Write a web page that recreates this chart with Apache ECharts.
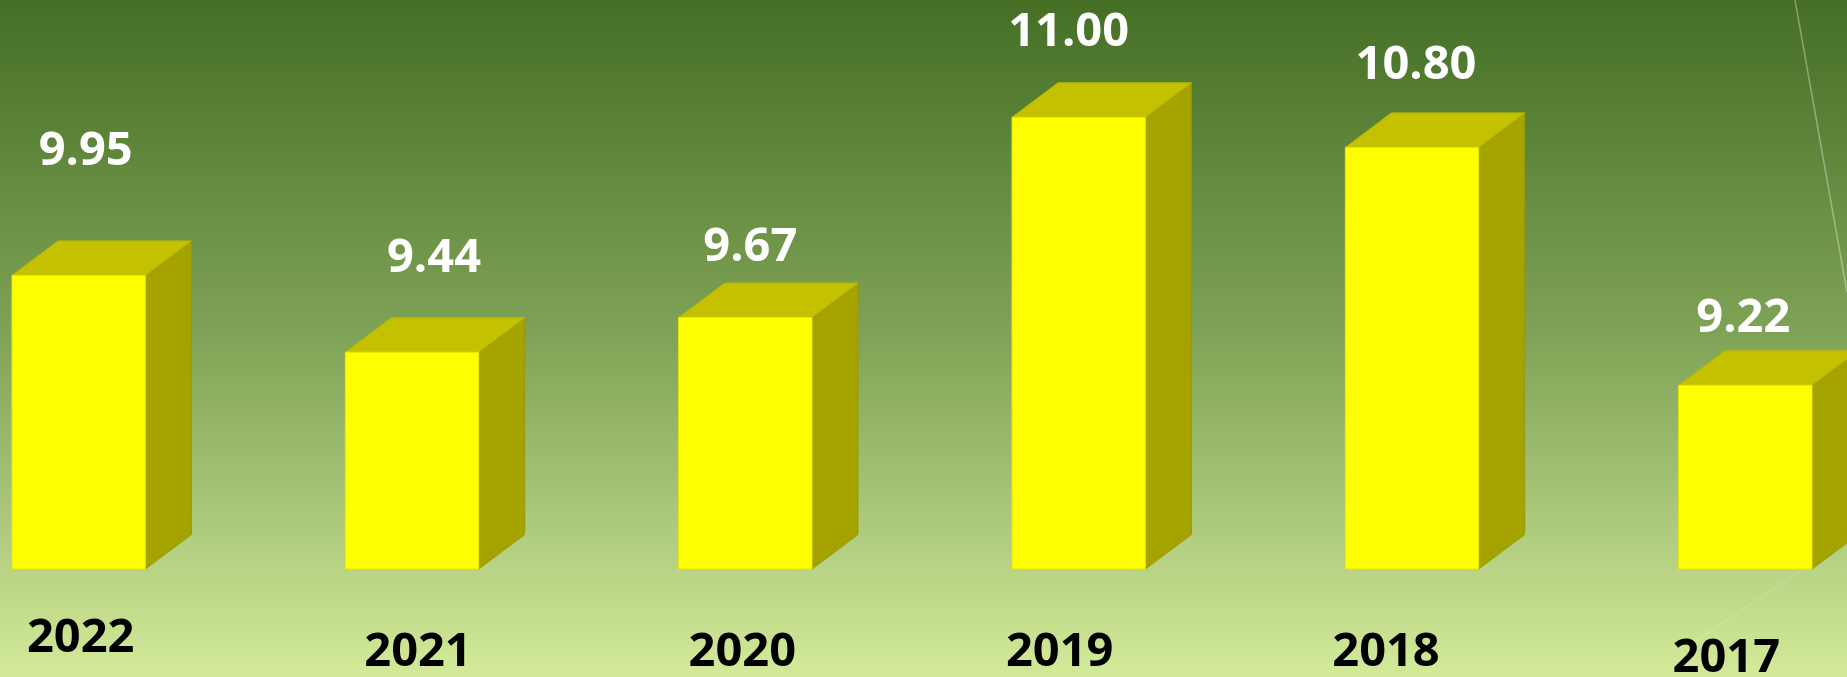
<!DOCTYPE html>
<html><head><meta charset="utf-8">
<script src="https://cdn.jsdelivr.net/npm/echarts@6/dist/echarts.min.js"></script>
<style>html,body{margin:0;padding:0;overflow:hidden;background:#6b9145;width:1847px;height:677px}
#c{position:absolute;left:-88px;top:0;width:2000px;height:677px}</style>
</head><body><div id="c"></div><script>
// ---- data ----
const years = ['2022', '2021', '2020', '2019', '2018', '2017'];
const values = [9.95, 9.44, 9.67, 11.00, 10.80, 9.22];
const valueLabels = ['9.95', '9.44', '9.67', '11.00', '10.80', '9.22'];
const axisMin = 8;
const axisMax = 11.5;

// ---- layout / style (not data) ----
const OFFSET_X = 88; // container is shifted left so the plot runs past both edges
const valueLabelNudge = [[7, -128], [22, -98], [5, -74], [-10, -89], [4, -86], [-2, -71]];
const yearLabelNudge = [[2, 66], [6, 80], [-3, 80], [-19, 80], [-26, 80], [-19, 86]];
const DX = 46, DY = 34.5;
const FONT = '"Open Sans", "DejaVu Sans", sans-serif';

function renderItem(params, api) {
  const i = api.value(0);
  const v = api.value(1);
  const top = api.coord([i, v]);
  const base = api.coord([i, axisMin]);
  const band = api.size([1, 0])[0];
  const w = band * 0.4;
  const xl = top[0] - w / 2, xr = top[0] + w / 2, yt = top[1], yb = base[1];
  const ln = valueLabelNudge[i], yn = yearLabelNudge[i];
  return {
    type: 'group',
    children: [
      { type: 'polygon', shape: { points: [[xr, yt], [xr + DX, yt - DY], [xr + DX, yb - DY], [xr, yb]] },
        style: { fill: '#A4A300', stroke: '#9A9900', lineWidth: 1 } },
      { type: 'polygon', shape: { points: [[xl, yt], [xl + DX, yt - DY], [xr + DX, yt - DY], [xr, yt]] },
        style: { fill: '#C3C100', stroke: '#B8B600', lineWidth: 1 } },
      { type: 'rect', shape: { x: xl, y: yt, width: w, height: yb - yt },
        style: { fill: '#FFFF00', stroke: '#E8E800', lineWidth: 1 } },
      { type: 'text', x: top[0] + ln[0], y: yt + ln[1] + 4,
        style: { text: valueLabels[i], fill: '#FFFFFF', font: 'bold 47px ' + FONT, align: 'center', verticalAlign: 'middle' } },
      { type: 'text', x: top[0] + yn[0], y: yb + yn[1] + 4,
        style: { text: years[i], fill: '#000000', font: 'bold 47px ' + FONT, align: 'center', verticalAlign: 'middle' } }
    ]
  };
}

const chart = echarts.init(document.getElementById('c'), null, { renderer: 'canvas', width: 2000, height: 677 });
chart.setOption({
  animation: false,
  graphic: [
    { type: 'rect', z: -10, shape: { x: 0, y: 0, width: 2000, height: 677 },
      style: { fill: { type: 'linear', x: 0, y: 0, x2: 0, y2: 1, colorStops: [
        { offset: 0, color: '#446F25' },
        { offset: 0.25, color: '#62893D' },
        { offset: 0.5, color: '#80A457' },
        { offset: 0.75, color: '#A9C679' },
        { offset: 1, color: '#D3EB99' }
      ] } } },
    { type: 'line', z: -5, shape: { x1: 1795 + OFFSET_X, y1: 0, x2: 1847 + OFFSET_X, y2: 292 },
      style: { stroke: 'rgba(255,255,255,0.35)', lineWidth: 1.5 } },
    { type: 'line', z: -5, shape: { x1: 1690 + OFFSET_X, y1: 645, x2: 1847 + OFFSET_X, y2: 540 },
      style: { stroke: 'rgba(255,255,255,0.15)', lineWidth: 1.5 } }
  ],
  grid: { left: 0, right: 0, top: 42, bottom: 108, containLabel: false },
  xAxis: {
    type: 'category', data: years,
    axisLine: { show: false }, axisTick: { show: false }, axisLabel: { show: false }, splitLine: { show: false }
  },
  yAxis: {
    type: 'value', min: axisMin, max: axisMax,
    axisLine: { show: false }, axisTick: { show: false }, axisLabel: { show: false }, splitLine: { show: false }
  },
  series: [{
    type: 'custom',
    renderItem: renderItem,
    encode: { x: 0, y: 1 },
    data: values.map((v, i) => [i, v]),
    clip: false
  }]
});
</script></body></html>
